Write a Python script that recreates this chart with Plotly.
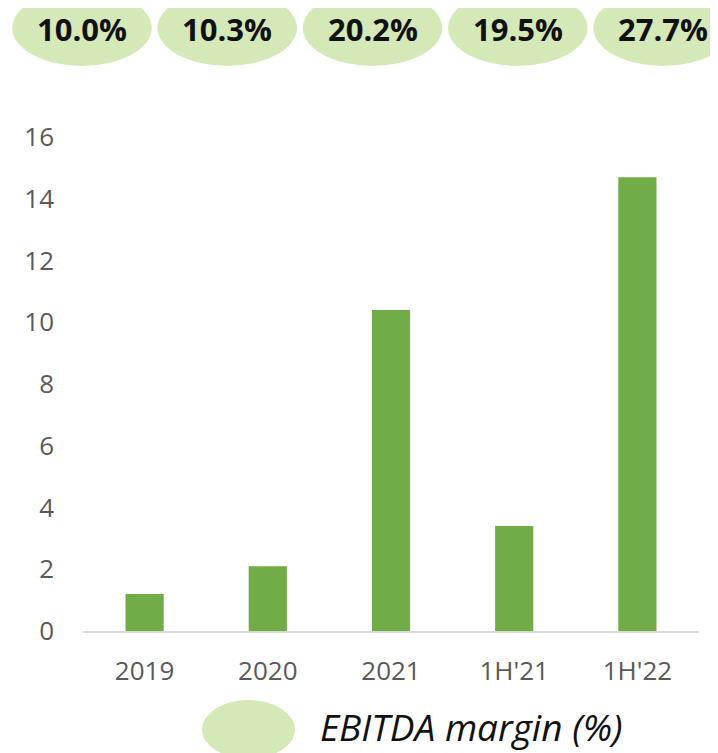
import plotly.graph_objects as go

categories = ["2019", "2020", "2021", "1H'21", "1H'22"]
ebitda = [1.2, 2.1, 10.4, 3.4, 14.7]
margin_labels = ["10.0%", "10.3%", "20.2%", "19.5%", "27.7%"]
y_ticks = [0, 2, 4, 6, 8, 10, 12, 14, 16]
legend_text = "EBITDA margin (%)"

BAR = "#70AD47"
ELL = "#D5E8B7"
TICK = "#595959"
W, H = 718, 753
OFF = 8  # page body offset


def px(x):
    return (x - OFF) / W


def py(y):
    return 1 - (y - OFF) / H


fig = go.Figure()
fig.add_trace(go.Bar(x=categories, y=ebitda, marker=dict(color=BAR, line=dict(width=0)),
                     width=0.31, hoverinfo="x+y"))

idx = list(range(len(margin_labels)))
fig.add_trace(go.Scatter(x=idx, y=[0.5] * len(idx), xaxis="x2", yaxis="y2", mode="markers",
                         marker=dict(opacity=0), hoverinfo="skip"))

sp = 145.25
r0 = -(82 - OFF) / sp
r1 = r0 + W / sp

for i, lab in zip(idx, margin_labels):
    fig.add_shape(type="circle", xref="x2", yref="paper", x0=i - 0.48, x1=i + 0.48,
                  y0=py(66), y1=py(-10), fillcolor=ELL, line=dict(width=0), layer="below")
    fig.add_annotation(x=i, y=py(29), xref="x2", yref="paper", text=f"<b>{lab}</b>",
                       showarrow=False,
                       font=dict(size=31, color="#111111", family="Open Sans"),
                       xanchor="center", yanchor="middle")

# legend
fig.add_shape(type="circle", xref="paper", yref="paper", x0=px(202), x1=px(295),
              y0=py(759), y1=py(700), fillcolor=ELL, line=dict(width=0))
fig.add_annotation(x=px(318), y=py(726), xref="paper", yref="paper", text=f"<i>{legend_text}</i>",
                   showarrow=False, xanchor="left", yanchor="middle",
                   font=dict(size=37, color="#111111", family="Open Sans"))

fig.update_layout(
    width=W, height=H, margin=dict(l=0, r=0, t=0, b=0, autoexpand=False),
    plot_bgcolor="rgba(0,0,0,0)", paper_bgcolor="white", showlegend=False, bargap=0.69,
    font=dict(family="Open Sans", color=TICK),
    xaxis=dict(domain=[px(83), px(699)], type="category", showgrid=False, showline=True,
               linecolor="#D9D9D9", linewidth=2, tickfont=dict(size=26, color=TICK),
               ticks="", ticklabelstandoff=16, anchor="y", automargin=False),
    yaxis=dict(domain=[py(631), py(137)], range=[0, 16], tickvals=y_ticks, showgrid=False,
               zeroline=False, showline=False, tickfont=dict(size=26, color=TICK),
               ticks="", ticklabelstandoff=28, automargin=False),
    xaxis2=dict(domain=[0, 1], range=[r0, r1], visible=False, anchor="y2", automargin=False),
    yaxis2=dict(domain=[0, 1], range=[0, 1], visible=False, anchor="x2", automargin=False),
)

fig.write_html("out.html")
